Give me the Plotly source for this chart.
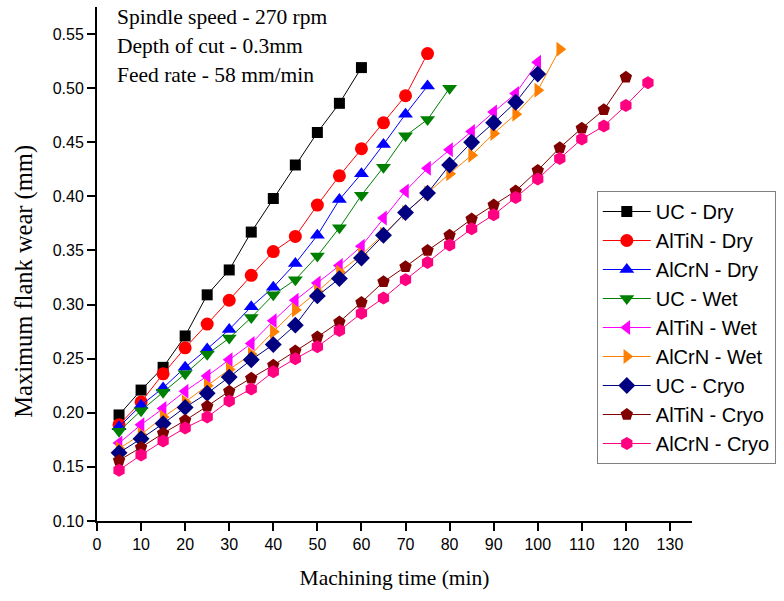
import plotly.graph_objects as go

# Machining time (min) and maximum flank wear (mm) for each tool / cooling condition
time_all = [5, 10, 15, 20, 25, 30, 35, 40, 45, 50, 55, 60, 65, 70, 75, 80, 85,
            90, 95, 100, 105, 110, 115, 120, 125]

uc_dry = [0.198, 0.221, 0.242, 0.271, 0.309, 0.332, 0.367, 0.398, 0.429, 0.459,
          0.486, 0.519]
altin_dry = [0.189, 0.210, 0.236, 0.260, 0.282, 0.304, 0.327, 0.349, 0.363, 0.392,
             0.419, 0.444, 0.468, 0.493, 0.532]
alcrn_dry = [0.187, 0.207, 0.223, 0.242, 0.259, 0.277, 0.298, 0.316, 0.338, 0.364,
             0.397, 0.421, 0.448, 0.476, 0.502]
uc_wet = [0.183, 0.202, 0.219, 0.236, 0.254, 0.269, 0.288, 0.309, 0.323, 0.345,
          0.371, 0.401, 0.427, 0.456, 0.471, 0.500]
altin_wet = [0.172, 0.189, 0.204, 0.220, 0.234, 0.249, 0.264, 0.285, 0.304, 0.320,
             0.336, 0.354, 0.380, 0.405, 0.426, 0.443, 0.460, 0.478, 0.495, 0.524]
alcrn_wet = [0.167, 0.180, 0.196, 0.210, 0.225, 0.240, 0.254, 0.275, 0.295, 0.312,
             0.330, 0.346, 0.365, 0.385, 0.403, 0.421, 0.438, 0.458, 0.476, 0.498,
             0.536]
uc_cryo = [0.163, 0.176, 0.190, 0.205, 0.218, 0.233, 0.249, 0.263, 0.281, 0.308,
           0.324, 0.343, 0.364, 0.385, 0.403, 0.429, 0.450, 0.468, 0.487, 0.513]
altin_cryo = [0.156, 0.168, 0.181, 0.193, 0.206, 0.220, 0.232, 0.244, 0.257, 0.270,
              0.284, 0.302, 0.321, 0.335, 0.350, 0.364, 0.379, 0.392, 0.405, 0.424,
              0.445, 0.463, 0.480, 0.510]
alcrn_cryo = [0.147, 0.161, 0.174, 0.186, 0.196, 0.211, 0.222, 0.238, 0.250, 0.261,
              0.276, 0.292, 0.306, 0.323, 0.339, 0.355, 0.370, 0.383, 0.399, 0.416,
              0.435, 0.453, 0.465, 0.484, 0.505]

series_names = ["UC - Dry", "AlTiN - Dry", "AlCrN - Dry", "UC - Wet", "AlTiN - Wet",
                "AlCrN - Wet", "UC - Cryo", "AlTiN - Cryo", "AlCrN - Cryo"]
series_values = [uc_dry, altin_dry, alcrn_dry, uc_wet, altin_wet, alcrn_wet,
                 uc_cryo, altin_cryo, alcrn_cryo]
series_colors = ["#000000", "#FF0000", "#0000FF", "#008000", "#FF00FF",
                 "#FF8000", "#000080", "#800000", "#FF0080"]
series_symbols = ["square", "circle", "triangle-up", "triangle-down", "triangle-left",
                  "triangle-right", "diamond", "pentagon", "hexagon"]
series_sizes = [11, 13, 13, 13, 13, 13, 13, 13, 13]

y_ticks = [0.10, 0.15, 0.20, 0.25, 0.30, 0.35, 0.40, 0.45, 0.50, 0.55]
x_ticks = list(range(0, 131, 10))

notes = ["Spindle speed - 270 rpm", "Depth of cut - 0.3mm", "Feed rate - 58 mm/min"]

fig = go.Figure()
for name, vals, col, sym, sz in zip(series_names, series_values, series_colors,
                                    series_symbols, series_sizes):
    fig.add_trace(go.Scatter(
        x=time_all[:len(vals)], y=vals, name=name, mode="lines+markers",
        line=dict(color=col, width=1),
        marker=dict(symbol=sym, size=sz, color=col, line=dict(width=0)),
    ))

# process conditions in the upper-left corner
for i, txt in enumerate(notes):
    fig.add_annotation(
        text=txt, xref="paper", yref="paper", x=0.031, y=0.981 - i * 0.0565,
        xanchor="left", yanchor="middle", showarrow=False,
        font=dict(family="Liberation Serif", size=21.5, color="black"),
    )

# vertical axis title, placed as rotated text left of the tick labels
fig.add_annotation(
    text="Maximum flank wear (mm)", xref="paper", yref="paper",
    x=-0.123, y=0.467, xanchor="center", yanchor="middle", textangle=-90,
    showarrow=False,
    font=dict(family="Liberation Serif", size=24.5, color="black"),
)

axis_common = dict(
    showgrid=False, zeroline=False, showline=True, linecolor="black", linewidth=2,
    ticks="outside", ticklen=8, tickwidth=2, tickcolor="black",
    tickfont=dict(family="Liberation Sans", size=16, color="black"),
)

fig.update_xaxes(
    range=[0, 135], tickvals=x_ticks,
    title=dict(text="Machining time (min)", standoff=18,
               font=dict(family="Liberation Serif", size=21.5, color="black")),
    **axis_common,
)
fig.update_yaxes(
    range=[0.10, 0.575], tickvals=y_ticks, tickformat=".2f",
    **axis_common,
)

fig.update_layout(
    width=784, height=601,
    margin=dict(l=97, r=92, t=7, b=80),
    plot_bgcolor="white", paper_bgcolor="white",
    showlegend=True,
    legend=dict(
        x=0.84, y=0.642, xanchor="left", yanchor="top",
        bgcolor="white", bordercolor="#808080", borderwidth=1,
        font=dict(family="Liberation Sans", size=20, color="black"),
        itemwidth=48, tracegroupgap=0,
    ),
)

fig.write_html("out.html")
